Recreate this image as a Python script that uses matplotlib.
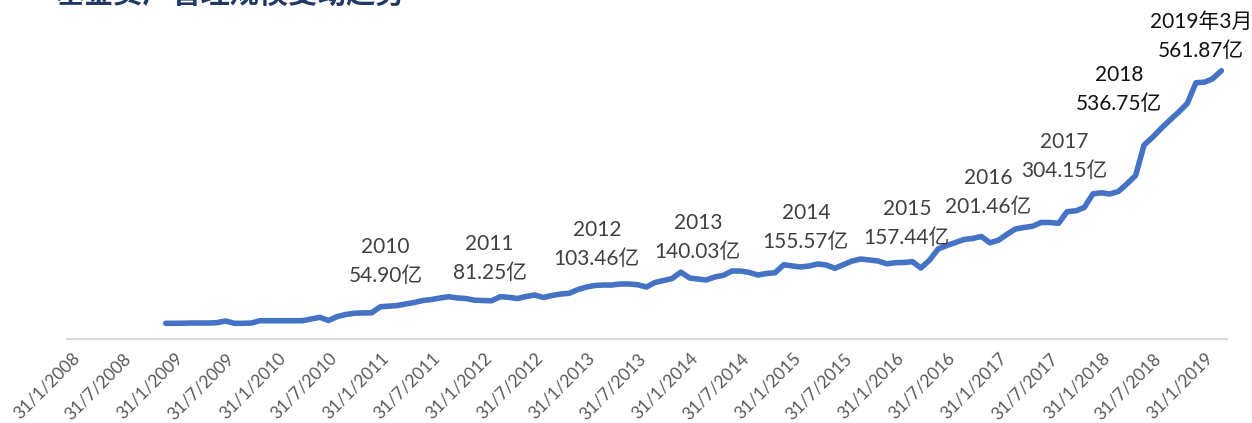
import matplotlib
matplotlib.use('Agg')
import matplotlib.pyplot as plt
import pandas as pd

plt.rcParams['font.family'] = ['Lato', 'Noto Sans CJK SC', 'DejaVu Sans']

# 月末规模（亿），2008-12 ~ 2019-03
values = [
    32.9, 32.9, 33.0, 33.5, 33.5, 33.5, 34.1, 37.7, 32.9, 32.9,
    33.5, 38.3, 38.3, 38.3, 38.3, 38.3, 38.3, 41.9, 45.4, 38.7,
    47.1, 51.3, 54.0, 54.6, 54.90, 67.6, 68.7, 70.0, 73.3, 76.4,
    80.6, 82.7, 85.9, 88.6, 85.9, 84.8, 81.25, 80.6, 80.0, 88.6,
    87.3, 84.8, 89.0, 92.1, 86.9, 91.1, 94.2, 95.7, 103.46, 108.9,
    112.0, 113.0, 113.0, 115.2, 115.2, 113.7, 108.9, 118.3, 122.5, 126.7,
    140.03, 127.7, 125.7, 123.6, 129.8, 133.4, 142.4, 142.4, 139.3, 134.0,
    137.2, 138.8, 155.57, 152.9, 150.8, 152.9, 157.1, 155.0, 148.0, 156.0,
    163.4, 167.5, 165.4, 163.4, 157.44, 159.8, 160.2, 161.9, 148.7, 165.4,
    188.5, 195.8, 202.1, 208.4, 210.5, 214.7, 201.46, 207.3, 218.8, 230.4,
    233.5, 236.2, 244.0, 244.0, 242.3, 266.6, 268.5, 275.4, 304.15, 306.2,
    303.7, 308.9, 324.6, 342.4, 406.3, 423.0, 441.9, 458.6, 475.4, 493.2,
    536.75, 538.0, 545.0, 561.87,
]
dates = pd.date_range('2008-12-31', periods=len(values), freq='ME')

tick_dates = pd.date_range('2008-01-31', '2019-01-31', freq='6ME')
tick_labels = [f"{d.day}/{d.month}/{d.year}" for d in tick_dates]

ann_dates = ['2010-12-31', '2011-12-31', '2012-12-31', '2013-12-31', '2014-12-31',
             '2015-12-31', '2016-12-31', '2017-12-31', '2018-12-31', '2019-03-31']
ann_years = ['2010', '2011', '2012', '2013', '2014', '2015', '2016', '2017', '2018', '2019年3月']
ann_texts = ['54.90亿', '81.25亿', '103.46亿', '140.03亿', '155.57亿',
             '157.44亿', '201.46亿', '304.15亿', '536.75亿', '561.87亿']

fig = plt.figure(figsize=(12.52, 4.23), dpi=100)
ax = fig.add_axes([67 / 1252, 84 / 423, 1160 / 1252, 339 / 423])

ax.plot(dates, values, color='#4472C4', linewidth=4.0, solid_capstyle='round',
        solid_joinstyle='round')

ax.set_ylim(0, 710)
ax.set_xlim(pd.Timestamp('2008-01-16'), pd.Timestamp('2019-04-20'))
ax.set_yticks([])
ax.set_xticks(tick_dates)
ax.set_xticklabels(tick_labels, rotation=45, ha='right', va='top',
                   rotation_mode='anchor', fontsize=12.5, color='#595959')
ax.tick_params(axis='x', length=0, pad=8)

for s in ['top', 'left', 'right']:
    ax.spines[s].set_visible(False)
ax.spines['bottom'].set_color('#D9D9D9')
ax.spines['bottom'].set_linewidth(1.5)

# 标注文字相对数据点的偏移（像素）
offsets = [(14, 51), (15, 42), (19, 45), (17, 35), (22, 37),
           (20, 40), (-2, 50), (-29, 37), (-77, -7), (-20, 34)]
vals = dict(zip(dates, values))
for i, (d, yr, t) in enumerate(zip(ann_dates, ann_years, ann_texts)):
    d = pd.Timestamp(d)
    col = '#111111' if i >= 8 else '#404040'
    ax.annotate(f"{yr}\n{t}", xy=(d, vals[d]), xytext=offsets[i],
                textcoords='offset pixels', ha='center', va='center',
                fontsize=15, color=col, linespacing=1.55,
                annotation_clip=False)

fig.text(55 / 1252, 1 - 9 / 423, '基金资产管理规模变动趋势', fontsize=21,
         fontweight='bold', color='#1F3864', ha='left', va='bottom',
         family=['Noto Sans CJK SC'])

fig.savefig('out.png', dpi=100)
